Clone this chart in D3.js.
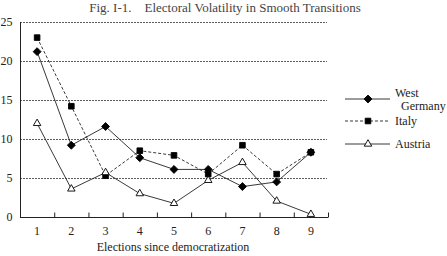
<!DOCTYPE html>
<html>
<head>
<meta charset="utf-8">
<script src="https://cdn.jsdelivr.net/npm/d3@7"></script>
<style>
  body { margin: 0; background: #fff; }
  svg { display: block; font-family: "Liberation Serif", "DejaVu Serif", serif; }
</style>
</head>
<body>
<svg width="447" height="256"></svg>
<script>
// данные графика
const elections = [1, 2, 3, 4, 5, 6, 7, 8, 9];
const westGermany = [21.2, 9.2, 11.6, 7.6, 6.1, 6.1, 3.9, 4.5, 8.3];
const italy = [23.0, 14.2, 5.3, 8.5, 7.9, 5.5, 9.2, 5.5, 8.3];
const austria = [12.0, 3.6, 5.7, 3.0, 1.75, 4.7, 7.0, 2.05, 0.35];
const yTicks = [0, 5, 10, 15, 20, 25];

const svg = d3.select("svg");
const area = { left: 20, right: 328, top: 22, bottom: 217 };

// шкалы
const scX = d3.scaleBand().domain(elections).range([area.left, area.right]);
const scY = d3.scaleLinear().domain([0, 25]).range([area.bottom, area.top]);
const cx = d => scX(d) + scX.bandwidth() / 2;

// заголовок
svg.append("text")
  .attr("x", 225).attr("y", 12)
  .attr("text-anchor", "middle")
  .style("font-size", "13px")
  .style("fill", "#444")
  .attr("xml:space", "preserve")
  .text("Fig. I-1.    Electoral Volatility in Smooth Transitions");

// пунктирная сетка
svg.append("g").selectAll("line")
  .data(yTicks.filter(d => d > 0))
  .enter().append("line")
  .attr("x1", area.left).attr("x2", area.right - 1)
  .attr("y1", d => scY(d) + 0.5).attr("y2", d => scY(d) + 0.5)
  .style("stroke", "#333")
  .style("stroke-width", 0.8)
  .style("stroke-dasharray", "2,1");

// ось Y
const axisY = d3.axisLeft(scY).tickValues(yTicks).tickSize(0).tickPadding(8);
const gy = svg.append("g").attr("transform", `translate(${area.left + 0.5},0)`).call(axisY);
gy.select(".domain").attr("d", `M0,${area.top}V${area.bottom}`).style("stroke", "#222");
gy.selectAll("text").style("font-size", "12px").style("font-family", "Liberation Serif").style("fill", "#222");

// ось X: деления на границах полос
const gx = svg.append("g").attr("transform", `translate(0,${area.bottom + 0.5})`);
gx.append("line").attr("x1", area.left).attr("x2", area.right).style("stroke", "#222");
gx.selectAll(".tk")
  .data(elections.concat([10]))
  .enter().append("line")
  .attr("x1", (d, i) => area.left + i * scX.bandwidth() + 0.5)
  .attr("x2", (d, i) => area.left + i * scX.bandwidth() + 0.5)
  .attr("y1", -5).attr("y2", 0)
  .style("stroke", "#222");
gx.selectAll("text")
  .data(elections)
  .enter().append("text")
  .attr("x", d => cx(d))
  .attr("y", 17)
  .attr("text-anchor", "middle")
  .style("font-size", "12px")
  .style("fill", "#222")
  .text(d => d);

svg.append("text")
  .attr("x", 173).attr("y", 251)
  .attr("text-anchor", "middle")
  .style("font-size", "12px")
  .style("fill", "#222")
  .text("Elections since democratization");

// серии
const series = [
  { name: "wg", values: westGermany, dash: null, symbol: d3.symbolDiamond2, size: 40, fill: "#000" },
  { name: "it", values: italy, dash: "3,2", symbol: d3.symbolSquare2, size: 40, fill: "#000" },
  { name: "at", values: austria, dash: null, symbol: d3.symbolTriangle2, size: 40, fill: "#fff" }
];

const line = d3.line().x((d, i) => cx(elections[i])).y(d => scY(d));

series.forEach(s => {
  svg.append("path")
    .datum(s.values)
    .attr("d", line)
    .style("fill", "none")
    .style("stroke", "#222")
    .style("stroke-width", 0.9)
    .style("stroke-dasharray", s.dash);
  svg.append("g").selectAll("path")
    .data(s.values)
    .enter().append("path")
    .attr("d", d3.symbol().type(s.symbol).size(s.size))
    .attr("transform", (d, i) => `translate(${cx(elections[i])},${scY(d)})`)
    .style("fill", s.fill)
    .style("stroke", "#000")
    .style("stroke-width", 0.9);
});

// легенда
const legend = [
  { s: series[0], y: 99, lines: ["West", "  Germany"] },
  { s: series[1], y: 121, lines: ["Italy"] },
  { s: series[2], y: 144, lines: ["Austria"] }
];
legend.forEach(l => {
  svg.append("line")
    .attr("x1", 345).attr("x2", 390)
    .attr("y1", l.y).attr("y2", l.y)
    .style("stroke", "#222")
    .style("stroke-width", 0.9)
    .style("stroke-dasharray", l.s.dash);
  svg.append("path")
    .attr("d", d3.symbol().type(l.s.symbol).size(l.s.size))
    .attr("transform", `translate(368,${l.y})`)
    .style("fill", l.s.fill)
    .style("stroke", "#000")
    .style("stroke-width", 0.9);
  const t = svg.append("text")
    .attr("x", 395).attr("y", l.y - (l.lines.length - 1) * 6 + 4)
    .attr("xml:space", "preserve")
    .style("font-size", "12px")
    .style("fill", "#222");
  l.lines.forEach((txt, i) => {
    t.append("tspan").attr("x", 395).attr("dy", i ? 13 : 0).text(txt);
  });
});
</script>
</body>
</html>
